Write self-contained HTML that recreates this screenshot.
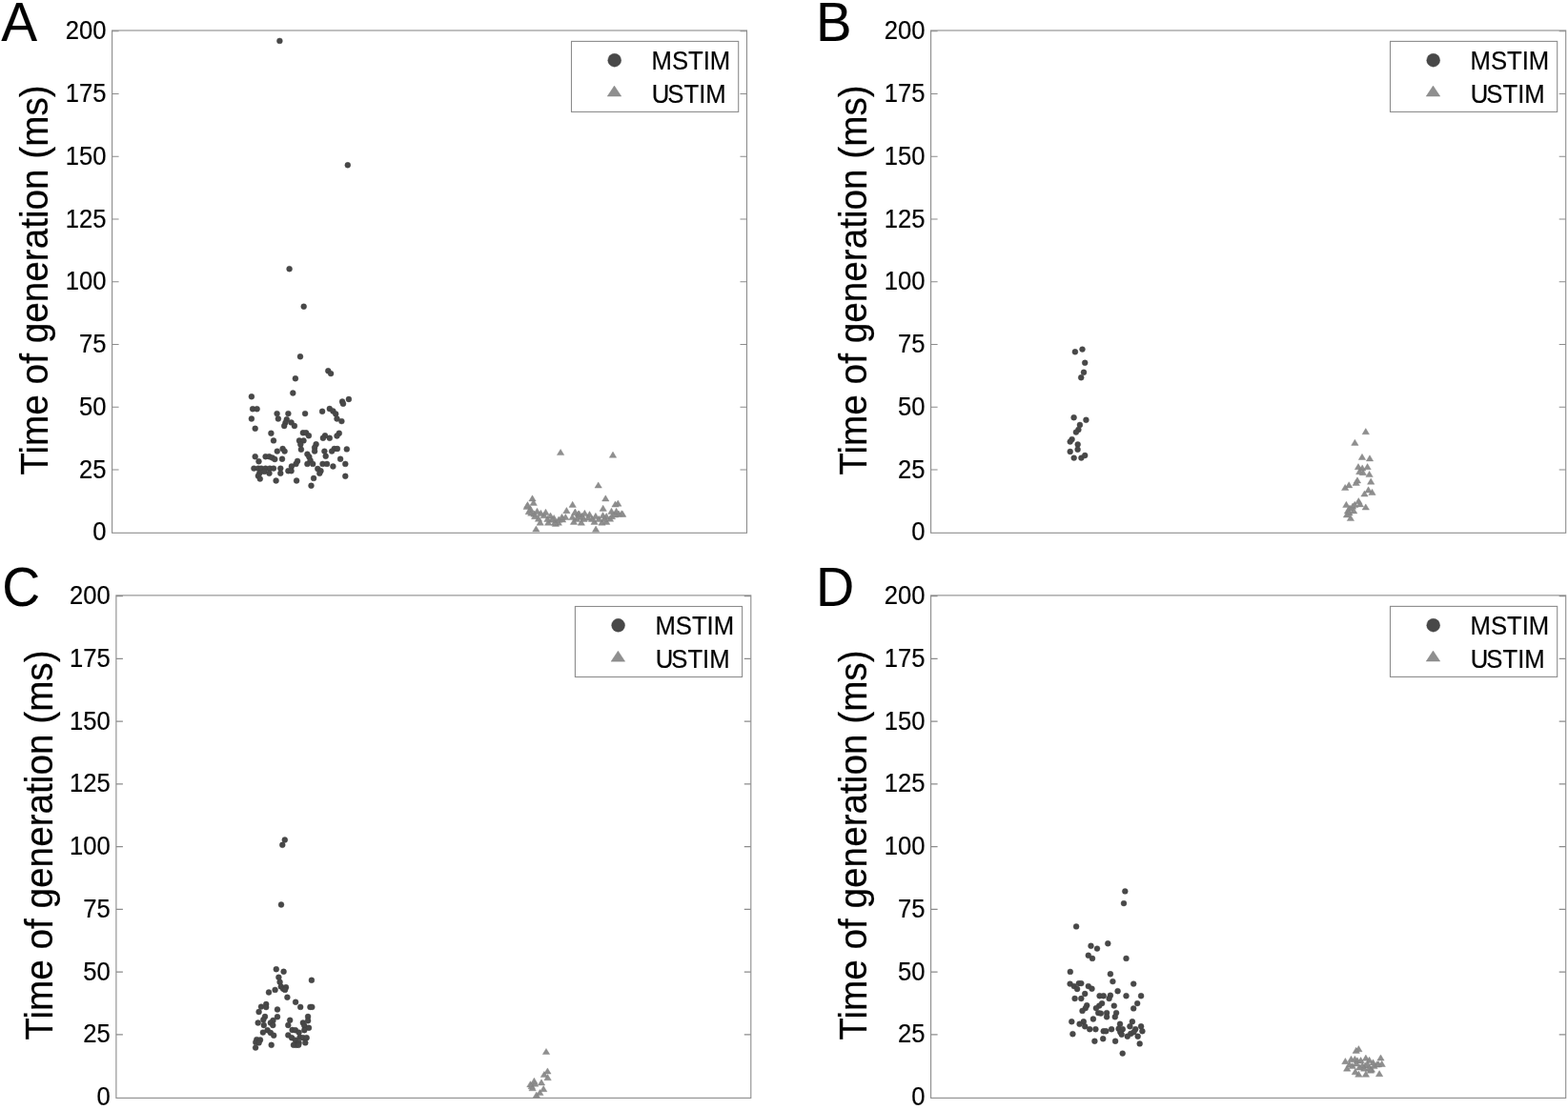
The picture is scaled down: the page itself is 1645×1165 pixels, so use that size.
<!DOCTYPE html>
<html lang="en">
<head>
<meta charset="utf-8">
<title>Time of generation: MSTIM vs USTIM</title>
<style>
html,body{margin:0;padding:0;background:#fff;}
body{width:1645px;height:1165px;overflow:hidden;}
svg{display:block;}
text{font-family:"Liberation Sans",sans-serif;fill:#000;stroke:#000;stroke-width:0.2px;}
.tick{font-size:25.6px;text-anchor:end;}
.leg{font-size:25.7px;}
.yl{font-size:38.72px;text-anchor:middle;}
.let{font-size:57.3px;stroke-width:0.1px;}
.ax{fill:none;stroke:#8c8c8c;stroke-width:1.1;}
.m{fill:#484848;stroke:#3d3d3d;stroke-width:0.4px;}
.u{fill:#8f8f8f;stroke:#808080;stroke-width:0.4px;stroke-linejoin:miter;}
</style>
</head>
<body>
<svg width="1645" height="1165" viewBox="0 0 1645 1165">
<rect width="1645" height="1165" fill="#fff"/>

<g id="panel-A">
<text class="let" style="font-size:56.8px" transform="translate(1.3 42.9) scale(1 1.015)">A</text>
<text class="yl" transform="translate(50.2 294.0) rotate(-90) scale(1 1.035)">Time of generation (ms)</text>
<rect class="ax" x="117.6" y="32.0" width="665.9" height="527.3"/>
<text class="tick" transform="translate(111.4 41.2) scale(1 1.06)">200</text>
<text class="tick" transform="translate(111.4 107.0) scale(1 1.06)">175</text>
<text class="tick" transform="translate(111.4 172.7) scale(1 1.06)">150</text>
<text class="tick" transform="translate(111.4 238.5) scale(1 1.06)">125</text>
<text class="tick" transform="translate(111.4 304.2) scale(1 1.06)">100</text>
<text class="tick" transform="translate(111.4 370.0) scale(1 1.06)">75</text>
<text class="tick" transform="translate(111.4 435.8) scale(1 1.06)">50</text>
<text class="tick" transform="translate(111.4 501.5) scale(1 1.06)">25</text>
<text class="tick" transform="translate(111.4 567.3) scale(1 1.06)">0</text>
<path class="ax" d="M117.6 32.7h7M783.5 32.7h-7M117.6 98.46h7M783.5 98.46h-7M117.6 164.22h7M783.5 164.22h-7M117.6 229.98h7M783.5 229.98h-7M117.6 295.74h7M783.5 295.74h-7M117.6 361.5h7M783.5 361.5h-7M117.6 427.26h7M783.5 427.26h-7M117.6 493.02h7M783.5 493.02h-7"/>
<g class="m"><circle cx="293.4" cy="42.9" r="2.95"/><circle cx="364.8" cy="173.3" r="2.95"/><circle cx="303.6" cy="282.2" r="2.95"/><circle cx="318.7" cy="321.7" r="2.95"/><circle cx="315.0" cy="374.3" r="2.95"/><circle cx="344.3" cy="389.3" r="2.95"/><circle cx="347.1" cy="392.1" r="2.95"/><circle cx="309.9" cy="397.3" r="2.95"/><circle cx="307.3" cy="412.5" r="2.95"/><circle cx="263.9" cy="416.3" r="2.95"/><circle cx="365.9" cy="419.0" r="2.95"/><circle cx="359.1" cy="421.5" r="2.95"/><circle cx="360.0" cy="423.8" r="2.95"/><circle cx="265.1" cy="429.2" r="2.95"/><circle cx="269.6" cy="429.2" r="2.95"/><circle cx="263.9" cy="439.5" r="2.95"/><circle cx="290.6" cy="434.1" r="2.95"/><circle cx="291.9" cy="439.5" r="2.95"/><circle cx="302.4" cy="434.1" r="2.95"/><circle cx="300.8" cy="440.2" r="2.95"/><circle cx="299.5" cy="443.6" r="2.95"/><circle cx="298.2" cy="447.0" r="2.95"/><circle cx="305.6" cy="443.4" r="2.95"/><circle cx="308.9" cy="447.0" r="2.95"/><circle cx="320.1" cy="434.1" r="2.95"/><circle cx="338.1" cy="431.8" r="2.95"/><circle cx="345.8" cy="429.0" r="2.95"/><circle cx="349.4" cy="431.5" r="2.95"/><circle cx="352.2" cy="434.4" r="2.95"/><circle cx="353.5" cy="439.5" r="2.95"/><circle cx="358.4" cy="442.1" r="2.95"/><circle cx="267.7" cy="449.8" r="2.95"/><circle cx="284.4" cy="454.7" r="2.95"/><circle cx="287.0" cy="462.4" r="2.95"/><circle cx="317.9" cy="454.3" r="2.95"/><circle cx="321.1" cy="454.3" r="2.95"/><circle cx="323.9" cy="457.3" r="2.95"/><circle cx="314.0" cy="462.4" r="2.95"/><circle cx="318.5" cy="462.4" r="2.95"/><circle cx="315.3" cy="466.5" r="2.95"/><circle cx="315.9" cy="471.7" r="2.95"/><circle cx="341.0" cy="457.3" r="2.95"/><circle cx="338.9" cy="459.8" r="2.95"/><circle cx="345.8" cy="459.8" r="2.95"/><circle cx="355.8" cy="454.7" r="2.95"/><circle cx="353.5" cy="457.5" r="2.95"/><circle cx="331.6" cy="466.3" r="2.95"/><circle cx="330.1" cy="469.8" r="2.95"/><circle cx="330.1" cy="473.6" r="2.95"/><circle cx="296.6" cy="471.0" r="2.95"/><circle cx="298.6" cy="473.6" r="2.95"/><circle cx="290.8" cy="473.6" r="2.95"/><circle cx="340.4" cy="473.6" r="2.95"/><circle cx="341.7" cy="478.8" r="2.95"/><circle cx="350.7" cy="471.0" r="2.95"/><circle cx="353.9" cy="471.0" r="2.95"/><circle cx="348.1" cy="473.6" r="2.95"/><circle cx="363.8" cy="471.4" r="2.95"/><circle cx="267.7" cy="479.2" r="2.95"/><circle cx="278.6" cy="479.2" r="2.95"/><circle cx="282.5" cy="479.2" r="2.95"/><circle cx="285.7" cy="480.4" r="2.95"/><circle cx="288.3" cy="482.0" r="2.95"/><circle cx="296.0" cy="481.7" r="2.95"/><circle cx="322.4" cy="476.6" r="2.95"/><circle cx="324.3" cy="479.4" r="2.95"/><circle cx="325.6" cy="483.3" r="2.95"/><circle cx="322.4" cy="486.9" r="2.95"/><circle cx="328.2" cy="486.9" r="2.95"/><circle cx="312.1" cy="483.9" r="2.95"/><circle cx="310.5" cy="486.9" r="2.95"/><circle cx="305.9" cy="489.5" r="2.95"/><circle cx="302.4" cy="494.2" r="2.95"/><circle cx="305.6" cy="494.2" r="2.95"/><circle cx="271.5" cy="484.3" r="2.95"/><circle cx="266.4" cy="491.6" r="2.95"/><circle cx="270.9" cy="491.6" r="2.95"/><circle cx="274.1" cy="491.6" r="2.95"/><circle cx="278.6" cy="491.6" r="2.95"/><circle cx="283.1" cy="491.6" r="2.95"/><circle cx="287.0" cy="491.6" r="2.95"/><circle cx="272.2" cy="496.8" r="2.95"/><circle cx="277.3" cy="494.9" r="2.95"/><circle cx="282.5" cy="496.8" r="2.95"/><circle cx="270.9" cy="499.4" r="2.95"/><circle cx="272.8" cy="502.6" r="2.95"/><circle cx="294.3" cy="491.6" r="2.95"/><circle cx="294.3" cy="496.8" r="2.95"/><circle cx="338.5" cy="486.9" r="2.95"/><circle cx="343.0" cy="486.9" r="2.95"/><circle cx="349.4" cy="489.5" r="2.95"/><circle cx="357.1" cy="481.7" r="2.95"/><circle cx="362.3" cy="486.9" r="2.95"/><circle cx="362.3" cy="499.8" r="2.95"/><circle cx="333.3" cy="492.0" r="2.95"/><circle cx="336.5" cy="494.2" r="2.95"/><circle cx="335.3" cy="496.8" r="2.95"/><circle cx="329.1" cy="501.9" r="2.95"/><circle cx="326.5" cy="509.7" r="2.95"/><circle cx="311.1" cy="504.5" r="2.95"/><circle cx="289.6" cy="504.5" r="2.95"/></g>
<path class="u" d="M584.4 477.6L588.1 471.4L591.8 477.6ZM639.3 480.3L643.0 474.1L646.7 480.3ZM624.0 512.1L627.7 505.9L631.4 512.1ZM554.8 526.0L558.5 519.8L562.2 526.0ZM556.0 530.4L559.7 524.2L563.4 530.4ZM549.8 532.8L553.5 526.6L557.2 532.8ZM549.0 534.5L552.7 528.3L556.4 534.5ZM551.1 539.8L554.8 533.6L558.5 539.8ZM553.7 541.3L557.4 535.1L561.1 541.3ZM557.5 544.7L561.2 538.5L564.9 544.7ZM561.3 547.3L565.0 541.1L568.7 547.3ZM563.0 551.3L566.7 545.1L570.4 551.3ZM571.5 551.3L575.2 545.1L578.9 551.3ZM578.3 551.3L582.0 545.1L585.7 551.3ZM582.1 551.3L585.8 545.1L589.5 551.3ZM579.2 552.4L582.9 546.2L586.6 552.4ZM559.8 539.4L563.5 533.2L567.2 539.4ZM563.7 541.5L567.4 535.3L571.1 541.5ZM568.8 540.4L572.5 534.2L576.2 540.4ZM573.8 544.1L577.5 537.9L581.2 544.1ZM577.5 546.6L581.2 540.4L584.9 546.6ZM585.8 545.5L589.5 539.3L593.2 545.5ZM590.7 538.7L594.4 532.5L598.1 538.7ZM597.0 532.4L600.7 526.2L604.4 532.4ZM599.6 540.4L603.3 534.2L607.0 540.4ZM603.2 542.1L606.9 535.9L610.6 542.1ZM589.6 545.6L593.3 539.4L597.0 545.6ZM596.8 545.6L600.5 539.4L604.2 545.6ZM598.3 550.4L602.0 544.2L605.7 550.4ZM586.4 548.1L590.1 541.9L593.8 548.1ZM567.0 543.8L570.7 537.6L574.4 543.8ZM570.7 547.5L574.4 541.3L578.1 547.5ZM575.3 548.3L579.0 542.1L582.7 548.3ZM582.4 548.3L586.1 542.1L589.8 548.3ZM556.8 542.2L560.5 536.0L564.2 542.2ZM553.0 537.3L556.7 531.1L560.4 537.3ZM558.7 558.1L562.4 551.9L566.1 558.1ZM631.6 526.0L635.3 519.8L639.0 526.0ZM629.0 536.4L632.7 530.2L636.4 536.4ZM641.8 532.1L645.5 525.9L649.2 532.1ZM644.6 531.3L648.3 525.1L652.0 531.3ZM621.4 558.3L625.1 552.1L628.8 558.3ZM599.7 540.5L603.4 534.3L607.1 540.5ZM609.7 541.5L613.4 535.3L617.1 541.5ZM614.8 542.8L618.5 536.6L622.2 542.8ZM621.2 544.5L624.9 538.3L628.6 544.5ZM628.8 543.8L632.5 537.6L636.2 543.8ZM632.5 544.7L636.2 538.5L639.9 544.7ZM637.8 539.4L641.5 533.2L645.2 539.4ZM642.9 539.4L646.6 533.2L650.3 539.4ZM648.4 541.9L652.1 535.7L655.8 541.9ZM649.5 542.4L653.2 536.2L656.9 542.4ZM606.1 551.3L609.8 545.1L613.5 551.3ZM619.9 550.4L623.6 544.2L627.3 550.4ZM627.8 551.3L631.5 545.1L635.2 551.3ZM632.5 550.4L636.2 544.2L639.9 550.4ZM636.3 547.3L640.0 541.1L643.7 547.3ZM638.2 544.7L641.9 538.5L645.6 544.7ZM613.3 546.2L617.0 540.0L620.7 546.2ZM603.9 545.6L607.6 539.4L611.3 545.6ZM601.2 547.5L604.9 541.3L608.6 547.5ZM608.8 547.5L612.5 541.3L616.2 547.5ZM617.4 547.5L621.1 541.3L624.8 547.5ZM624.6 547.5L628.3 541.3L632.0 547.5ZM630.3 547.5L634.0 541.3L637.7 547.5ZM641.6 543.0L645.3 536.8L649.0 543.0ZM645.4 542.2L649.1 536.0L652.8 542.2ZM603.9 542.2L607.6 536.0L611.3 542.2ZM606.9 544.5L610.6 538.3L614.3 544.5Z"/>
<rect class="ax" x="599.5" y="43.4" width="175.2" height="74" fill="#fff"/>
<circle class="m" cx="644.7" cy="63.2" r="6.95"/>
<path class="u" d="M637.2 101.1L644.5 90.1L651.8 101.1Z"/>
<text class="leg" transform="translate(683.5 73.0) scale(1 1.06)">MSTIM</text>
<text class="leg" transform="translate(683.8 107.7) scale(1 1.06)">U<tspan dx="-2">STIM</tspan></text>
</g>
<g id="panel-B">
<text class="let" style="font-size:56.3px" transform="translate(855.9 42.9) scale(1 1.024)">B</text>
<text class="yl" transform="translate(909.2 294.0) rotate(-90) scale(1 1.035)">Time of generation (ms)</text>
<rect class="ax" x="976.6" y="32.0" width="666.1" height="527.3"/>
<text class="tick" transform="translate(970.4 41.2) scale(1 1.06)">200</text>
<text class="tick" transform="translate(970.4 107.0) scale(1 1.06)">175</text>
<text class="tick" transform="translate(970.4 172.7) scale(1 1.06)">150</text>
<text class="tick" transform="translate(970.4 238.5) scale(1 1.06)">125</text>
<text class="tick" transform="translate(970.4 304.2) scale(1 1.06)">100</text>
<text class="tick" transform="translate(970.4 370.0) scale(1 1.06)">75</text>
<text class="tick" transform="translate(970.4 435.8) scale(1 1.06)">50</text>
<text class="tick" transform="translate(970.4 501.5) scale(1 1.06)">25</text>
<text class="tick" transform="translate(970.4 567.3) scale(1 1.06)">0</text>
<path class="ax" d="M976.6 32.7h7M1642.7 32.7h-7M976.6 98.46h7M1642.7 98.46h-7M976.6 164.22h7M1642.7 164.22h-7M976.6 229.98h7M1642.7 229.98h-7M976.6 295.74h7M1642.7 295.74h-7M976.6 361.5h7M1642.7 361.5h-7M976.6 427.26h7M1642.7 427.26h-7M976.6 493.02h7M1642.7 493.02h-7"/>
<g class="m"><circle cx="1127.9" cy="369.3" r="2.95"/><circle cx="1135.5" cy="366.6" r="2.95"/><circle cx="1138.2" cy="380.8" r="2.95"/><circle cx="1137.0" cy="390.8" r="2.95"/><circle cx="1134.2" cy="396.3" r="2.95"/><circle cx="1126.6" cy="438.2" r="2.95"/><circle cx="1139.4" cy="440.8" r="2.95"/><circle cx="1132.9" cy="445.9" r="2.95"/><circle cx="1131.4" cy="450.9" r="2.95"/><circle cx="1128.9" cy="453.6" r="2.95"/><circle cx="1124.6" cy="461.1" r="2.95"/><circle cx="1122.7" cy="463.6" r="2.95"/><circle cx="1130.7" cy="466.4" r="2.95"/><circle cx="1130.6" cy="471.8" r="2.95"/><circle cx="1122.7" cy="474.0" r="2.95"/><circle cx="1126.7" cy="480.6" r="2.95"/><circle cx="1134.4" cy="480.6" r="2.95"/><circle cx="1138.2" cy="478.0" r="2.95"/></g>
<path class="u" d="M1429.1 455.8L1432.8 449.6L1436.5 455.8ZM1417.7 467.4L1421.4 461.2L1425.1 467.4ZM1425.3 482.5L1429.0 476.3L1432.7 482.5ZM1433.3 483.9L1437.0 477.7L1440.7 483.9ZM1421.3 492.8L1425.0 486.6L1428.7 492.8ZM1425.5 494.1L1429.2 487.9L1432.9 494.1ZM1430.9 492.8L1434.6 486.6L1438.3 492.8ZM1422.6 497.7L1426.3 491.5L1430.0 497.7ZM1426.2 498.7L1429.9 492.5L1433.6 498.7ZM1432.9 500.6L1436.6 494.4L1440.3 500.6ZM1420.3 507.0L1424.0 500.8L1427.7 507.0ZM1419.0 509.5L1422.7 503.3L1426.4 509.5ZM1434.5 508.3L1438.2 502.1L1441.9 508.3ZM1411.5 511.9L1415.2 505.7L1418.9 511.9ZM1407.5 514.6L1411.2 508.4L1414.9 514.6ZM1431.9 517.0L1435.6 510.8L1439.3 517.0ZM1435.8 519.5L1439.5 513.3L1443.2 519.5ZM1427.8 521.1L1431.5 514.9L1435.2 521.1ZM1421.6 528.8L1425.3 522.6L1429.0 528.8ZM1423.2 531.9L1426.9 525.7L1430.6 531.9ZM1408.7 532.5L1412.4 526.3L1416.1 532.5ZM1417.5 532.5L1421.2 526.3L1424.9 532.5ZM1415.4 534.2L1419.1 528.0L1422.8 534.2ZM1429.1 535.1L1432.8 528.9L1436.5 535.1ZM1410.3 538.9L1414.0 532.7L1417.7 538.9ZM1416.5 538.9L1420.2 532.7L1423.9 538.9ZM1409.3 543.0L1413.0 536.8L1416.7 543.0ZM1413.2 546.6L1416.9 540.4L1420.6 546.6ZM1412.3 536.3L1416.0 530.1L1419.7 536.3ZM1411.8 540.9L1415.5 534.7L1419.2 540.9Z"/>
<rect class="ax" x="1458.5" y="43.4" width="175.2" height="74" fill="#fff"/>
<circle class="m" cx="1503.7" cy="63.2" r="6.95"/>
<path class="u" d="M1496.2 101.1L1503.5 90.1L1510.8 101.1Z"/>
<text class="leg" transform="translate(1542.5 73.0) scale(1 1.06)">MSTIM</text>
<text class="leg" transform="translate(1542.8 107.7) scale(1 1.06)">U<tspan dx="-2">STIM</tspan></text>
</g>
<g id="panel-C">
<text class="let" style="font-size:55.3px" transform="translate(2.3 635.8) scale(1 1.042)">C</text>
<text class="yl" transform="translate(54.5 887.1) rotate(-90) scale(1 1.035)">Time of generation (ms)</text>
<rect class="ax" x="121.9" y="624.9" width="665.9" height="527.5000000000001"/>
<text class="tick" transform="translate(115.7 634.1) scale(1 1.06)">200</text>
<text class="tick" transform="translate(115.7 699.9) scale(1 1.06)">175</text>
<text class="tick" transform="translate(115.7 765.6) scale(1 1.06)">150</text>
<text class="tick" transform="translate(115.7 831.4) scale(1 1.06)">125</text>
<text class="tick" transform="translate(115.7 897.1) scale(1 1.06)">100</text>
<text class="tick" transform="translate(115.7 962.9) scale(1 1.06)">75</text>
<text class="tick" transform="translate(115.7 1028.7) scale(1 1.06)">50</text>
<text class="tick" transform="translate(115.7 1094.4) scale(1 1.06)">25</text>
<text class="tick" transform="translate(115.7 1160.2) scale(1 1.06)">0</text>
<path class="ax" d="M121.9 625.6h7M787.8 625.6h-7M121.9 691.36h7M787.8 691.36h-7M121.9 757.12h7M787.8 757.12h-7M121.9 822.88h7M787.8 822.88h-7M121.9 888.64h7M787.8 888.64h-7M121.9 954.4h7M787.8 954.4h-7M121.9 1020.16h7M787.8 1020.16h-7M121.9 1085.92h7M787.8 1085.92h-7"/>
<g class="m"><circle cx="298.8" cy="881.5" r="2.95"/><circle cx="296.3" cy="886.8" r="2.95"/><circle cx="295.0" cy="949.5" r="2.95"/><circle cx="289.8" cy="1017.2" r="2.95"/><circle cx="297.6" cy="1019.8" r="2.95"/><circle cx="292.4" cy="1025.7" r="2.95"/><circle cx="293.6" cy="1030.7" r="2.95"/><circle cx="294.8" cy="1035.4" r="2.95"/><circle cx="297.1" cy="1037.8" r="2.95"/><circle cx="300.0" cy="1036.3" r="2.95"/><circle cx="299.0" cy="1038.9" r="2.95"/><circle cx="326.9" cy="1028.8" r="2.95"/><circle cx="288.6" cy="1038.9" r="2.95"/><circle cx="282.0" cy="1041.5" r="2.95"/><circle cx="301.4" cy="1046.7" r="2.95"/><circle cx="310.1" cy="1051.7" r="2.95"/><circle cx="315.2" cy="1056.9" r="2.95"/><circle cx="325.4" cy="1056.9" r="2.95"/><circle cx="327.3" cy="1056.9" r="2.95"/><circle cx="279.2" cy="1054.0" r="2.95"/><circle cx="274.0" cy="1056.6" r="2.95"/><circle cx="279.2" cy="1057.1" r="2.95"/><circle cx="271.6" cy="1062.0" r="2.95"/><circle cx="291.0" cy="1059.5" r="2.95"/><circle cx="291.0" cy="1067.2" r="2.95"/><circle cx="278.0" cy="1067.0" r="2.95"/><circle cx="276.3" cy="1070.3" r="2.95"/><circle cx="270.7" cy="1073.5" r="2.95"/><circle cx="276.8" cy="1076.0" r="2.95"/><circle cx="286.5" cy="1071.0" r="2.95"/><circle cx="283.9" cy="1073.5" r="2.95"/><circle cx="286.3" cy="1076.0" r="2.95"/><circle cx="304.2" cy="1070.8" r="2.95"/><circle cx="302.3" cy="1076.0" r="2.95"/><circle cx="323.1" cy="1067.0" r="2.95"/><circle cx="323.1" cy="1071.3" r="2.95"/><circle cx="317.9" cy="1073.5" r="2.95"/><circle cx="319.3" cy="1076.5" r="2.95"/><circle cx="324.0" cy="1078.8" r="2.95"/><circle cx="319.3" cy="1081.2" r="2.95"/><circle cx="306.6" cy="1081.0" r="2.95"/><circle cx="309.9" cy="1081.2" r="2.95"/><circle cx="313.6" cy="1083.6" r="2.95"/><circle cx="280.6" cy="1081.2" r="2.95"/><circle cx="275.9" cy="1083.6" r="2.95"/><circle cx="283.9" cy="1084.0" r="2.95"/><circle cx="287.2" cy="1086.7" r="2.95"/><circle cx="302.3" cy="1086.4" r="2.95"/><circle cx="306.1" cy="1089.2" r="2.95"/><circle cx="309.9" cy="1091.6" r="2.95"/><circle cx="314.6" cy="1088.7" r="2.95"/><circle cx="317.9" cy="1089.2" r="2.95"/><circle cx="321.7" cy="1089.2" r="2.95"/><circle cx="320.3" cy="1094.4" r="2.95"/><circle cx="313.6" cy="1094.4" r="2.95"/><circle cx="310.8" cy="1096.8" r="2.95"/><circle cx="308.0" cy="1096.8" r="2.95"/><circle cx="313.2" cy="1096.8" r="2.95"/><circle cx="269.3" cy="1091.1" r="2.95"/><circle cx="273.0" cy="1091.4" r="2.95"/><circle cx="268.3" cy="1093.9" r="2.95"/><circle cx="271.6" cy="1094.4" r="2.95"/><circle cx="268.1" cy="1099.6" r="2.95"/><circle cx="284.7" cy="1096.8" r="2.95"/></g>
<path class="u" d="M569.3 1106.6L573.0 1100.4L576.7 1106.6ZM570.7 1127.1L574.4 1120.9L578.1 1127.1ZM567.2 1130.6L570.9 1124.4L574.6 1130.6ZM570.9 1133.8L574.6 1127.6L578.3 1133.8ZM556.7 1137.4L560.4 1131.2L564.1 1137.4ZM564.3 1139.0L568.0 1132.8L571.7 1139.0ZM552.7 1140.9L556.4 1134.7L560.1 1140.9ZM554.9 1144.8L558.6 1138.6L562.3 1144.8ZM566.5 1145.7L570.2 1139.5L573.9 1145.7ZM562.7 1149.6L566.4 1143.4L570.1 1149.6ZM559.1 1152.2L562.8 1146.0L566.5 1152.2ZM557.5 1140.3L561.2 1134.1L564.9 1140.3ZM554.0 1142.8L557.7 1136.6L561.4 1142.8Z"/>
<rect class="ax" x="603.4" y="636.5" width="175.2" height="74" fill="#fff"/>
<circle class="m" cx="648.6" cy="656.3" r="6.95"/>
<path class="u" d="M641.1 694.2L648.4 683.2L655.7 694.2Z"/>
<text class="leg" transform="translate(687.4 666.1) scale(1 1.06)">MSTIM</text>
<text class="leg" transform="translate(687.7 700.8) scale(1 1.06)">U<tspan dx="-2">STIM</tspan></text>
</g>
<g id="panel-D">
<text class="let" style="font-size:55.7px" transform="translate(855.9 635.7) scale(1 1.035)">D</text>
<text class="yl" transform="translate(909.2 887.1) rotate(-90) scale(1 1.035)">Time of generation (ms)</text>
<rect class="ax" x="976.6" y="624.9" width="666.1" height="527.5000000000001"/>
<text class="tick" transform="translate(970.4 634.1) scale(1 1.06)">200</text>
<text class="tick" transform="translate(970.4 699.9) scale(1 1.06)">175</text>
<text class="tick" transform="translate(970.4 765.6) scale(1 1.06)">150</text>
<text class="tick" transform="translate(970.4 831.4) scale(1 1.06)">125</text>
<text class="tick" transform="translate(970.4 897.1) scale(1 1.06)">100</text>
<text class="tick" transform="translate(970.4 962.9) scale(1 1.06)">75</text>
<text class="tick" transform="translate(970.4 1028.7) scale(1 1.06)">50</text>
<text class="tick" transform="translate(970.4 1094.4) scale(1 1.06)">25</text>
<text class="tick" transform="translate(970.4 1160.2) scale(1 1.06)">0</text>
<path class="ax" d="M976.6 625.6h7M1642.7 625.6h-7M976.6 691.36h7M1642.7 691.36h-7M976.6 757.12h7M1642.7 757.12h-7M976.6 822.88h7M1642.7 822.88h-7M976.6 888.64h7M1642.7 888.64h-7M976.6 954.4h7M1642.7 954.4h-7M976.6 1020.16h7M1642.7 1020.16h-7M976.6 1085.92h7M1642.7 1085.92h-7"/>
<g class="m"><circle cx="1180.3" cy="935.4" r="2.95"/><circle cx="1179.0" cy="948.1" r="2.95"/><circle cx="1129.1" cy="972.4" r="2.95"/><circle cx="1162.3" cy="990.3" r="2.95"/><circle cx="1144.5" cy="992.8" r="2.95"/><circle cx="1151.0" cy="995.6" r="2.95"/><circle cx="1141.8" cy="1002.8" r="2.95"/><circle cx="1146.0" cy="1005.9" r="2.95"/><circle cx="1181.5" cy="1005.9" r="2.95"/><circle cx="1122.8" cy="1019.9" r="2.95"/><circle cx="1164.9" cy="1022.3" r="2.95"/><circle cx="1167.4" cy="1030.1" r="2.95"/><circle cx="1189.2" cy="1032.6" r="2.95"/><circle cx="1122.6" cy="1032.6" r="2.95"/><circle cx="1126.8" cy="1035.1" r="2.95"/><circle cx="1130.1" cy="1038.0" r="2.95"/><circle cx="1131.8" cy="1032.1" r="2.95"/><circle cx="1134.3" cy="1032.1" r="2.95"/><circle cx="1141.8" cy="1035.1" r="2.95"/><circle cx="1145.5" cy="1037.7" r="2.95"/><circle cx="1138.2" cy="1043.0" r="2.95"/><circle cx="1172.6" cy="1040.2" r="2.95"/><circle cx="1181.5" cy="1045.2" r="2.95"/><circle cx="1197.1" cy="1045.2" r="2.95"/><circle cx="1127.6" cy="1048.0" r="2.95"/><circle cx="1134.3" cy="1048.0" r="2.95"/><circle cx="1153.6" cy="1045.2" r="2.95"/><circle cx="1157.7" cy="1045.2" r="2.95"/><circle cx="1164.9" cy="1044.7" r="2.95"/><circle cx="1163.6" cy="1048.0" r="2.95"/><circle cx="1193.2" cy="1053.1" r="2.95"/><circle cx="1189.2" cy="1058.4" r="2.95"/><circle cx="1140.2" cy="1055.2" r="2.95"/><circle cx="1138.8" cy="1058.1" r="2.95"/><circle cx="1135.5" cy="1060.9" r="2.95"/><circle cx="1156.1" cy="1053.1" r="2.95"/><circle cx="1153.2" cy="1055.6" r="2.95"/><circle cx="1149.9" cy="1058.1" r="2.95"/><circle cx="1168.8" cy="1055.6" r="2.95"/><circle cx="1152.2" cy="1063.1" r="2.95"/><circle cx="1154.9" cy="1063.6" r="2.95"/><circle cx="1161.1" cy="1063.1" r="2.95"/><circle cx="1161.1" cy="1067.3" r="2.95"/><circle cx="1171.1" cy="1063.1" r="2.95"/><circle cx="1169.8" cy="1067.3" r="2.95"/><circle cx="1146.9" cy="1069.5" r="2.95"/><circle cx="1124.3" cy="1072.3" r="2.95"/><circle cx="1136.8" cy="1072.3" r="2.95"/><circle cx="1132.6" cy="1074.8" r="2.95"/><circle cx="1138.2" cy="1077.3" r="2.95"/><circle cx="1143.2" cy="1080.2" r="2.95"/><circle cx="1149.4" cy="1080.2" r="2.95"/><circle cx="1187.9" cy="1072.3" r="2.95"/><circle cx="1185.4" cy="1077.3" r="2.95"/><circle cx="1197.1" cy="1077.3" r="2.95"/><circle cx="1191.2" cy="1080.2" r="2.95"/><circle cx="1198.4" cy="1082.3" r="2.95"/><circle cx="1175.0" cy="1074.8" r="2.95"/><circle cx="1173.6" cy="1079.8" r="2.95"/><circle cx="1177.8" cy="1080.2" r="2.95"/><circle cx="1175.3" cy="1083.2" r="2.95"/><circle cx="1176.7" cy="1085.7" r="2.95"/><circle cx="1166.1" cy="1080.2" r="2.95"/><circle cx="1157.7" cy="1082.3" r="2.95"/><circle cx="1160.3" cy="1082.3" r="2.95"/><circle cx="1125.4" cy="1085.2" r="2.95"/><circle cx="1186.2" cy="1084.9" r="2.95"/><circle cx="1182.8" cy="1087.7" r="2.95"/><circle cx="1189.5" cy="1083.2" r="2.95"/><circle cx="1193.7" cy="1087.7" r="2.95"/><circle cx="1157.2" cy="1090.2" r="2.95"/><circle cx="1148.4" cy="1092.7" r="2.95"/><circle cx="1170.1" cy="1092.7" r="2.95"/><circle cx="1195.7" cy="1095.4" r="2.95"/><circle cx="1177.7" cy="1105.6" r="2.95"/></g>
<path class="u" d="M1421.7 1103.8L1425.4 1097.6L1429.1 1103.8ZM1419.0 1105.4L1422.7 1099.2L1426.4 1105.4ZM1443.4 1129.8L1447.1 1123.6L1450.8 1129.8ZM1444.8 1113.1L1448.5 1106.9L1452.2 1113.1ZM1407.7 1116.7L1411.4 1110.5L1415.1 1116.7ZM1413.8 1114.4L1417.5 1108.2L1421.2 1114.4ZM1417.7 1114.4L1421.4 1108.2L1425.1 1114.4ZM1420.3 1115.9L1424.0 1109.7L1427.7 1115.9ZM1423.9 1115.7L1427.6 1109.5L1431.3 1115.7ZM1429.2 1113.3L1432.9 1107.1L1436.6 1113.3ZM1432.9 1115.4L1436.6 1109.2L1440.3 1115.4ZM1436.8 1118.0L1440.5 1111.8L1444.2 1118.0ZM1409.5 1124.2L1413.2 1118.0L1416.9 1124.2ZM1418.1 1127.8L1421.8 1121.6L1425.5 1127.8ZM1421.7 1130.3L1425.4 1124.1L1429.1 1130.3ZM1429.2 1130.3L1432.9 1124.1L1436.6 1130.3ZM1446.0 1119.5L1449.7 1113.3L1453.4 1119.5ZM1412.1 1120.0L1415.8 1113.8L1419.5 1120.0ZM1415.1 1121.6L1418.8 1115.4L1422.5 1121.6ZM1425.5 1121.1L1429.2 1114.9L1432.9 1121.1ZM1427.5 1124.2L1431.2 1118.0L1434.9 1124.2ZM1432.7 1124.2L1436.4 1118.0L1440.1 1124.2ZM1435.2 1125.2L1438.9 1119.0L1442.6 1125.2ZM1437.8 1121.6L1441.5 1115.4L1445.2 1121.6ZM1440.9 1120.0L1444.6 1113.8L1448.3 1120.0ZM1434.2 1126.2L1437.9 1120.0L1441.6 1126.2ZM1431.1 1120.0L1434.8 1113.8L1438.5 1120.0ZM1422.4 1123.1L1426.1 1116.9L1429.8 1123.1ZM1442.4 1119.8L1446.1 1113.6L1449.8 1119.8ZM1419.3 1119.0L1423.0 1112.8L1426.7 1119.0ZM1428.5 1121.1L1432.2 1114.9L1435.9 1121.1Z"/>
<rect class="ax" x="1458.5" y="636.4" width="175.2" height="74" fill="#fff"/>
<circle class="m" cx="1503.7" cy="656.2" r="6.95"/>
<path class="u" d="M1496.2 694.1L1503.5 683.1L1510.8 694.1Z"/>
<text class="leg" transform="translate(1542.5 666.0) scale(1 1.06)">MSTIM</text>
<text class="leg" transform="translate(1542.8 700.7) scale(1 1.06)">U<tspan dx="-2">STIM</tspan></text>
</g>
</svg>
</body>
</html>
